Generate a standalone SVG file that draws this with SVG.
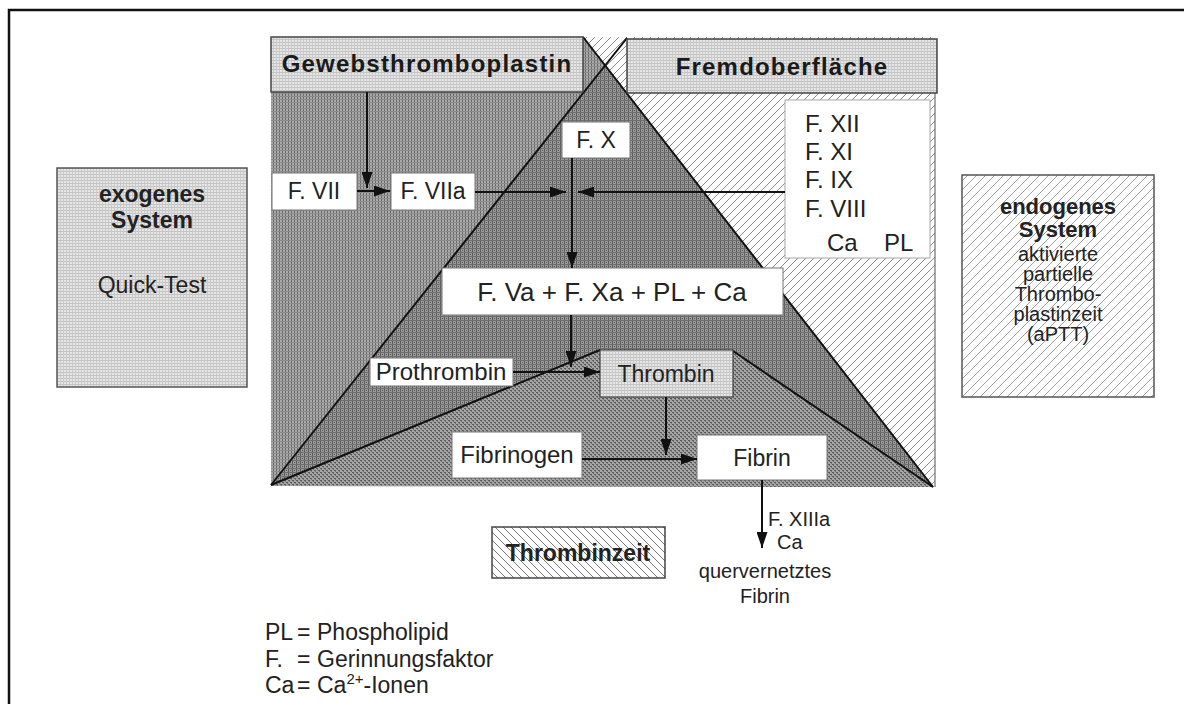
<svg xmlns="http://www.w3.org/2000/svg" width="1184" height="704" viewBox="0 0 1184 704">
<style>
.t{font-family:"Liberation Sans",Arial,sans-serif;font-size:23px;fill:#222}
.s20{font-size:20px}
.c{text-anchor:middle}
.b{font-weight:bold}
.h{font-family:"Liberation Sans",Arial,sans-serif;font-weight:bold;font-size:24px;letter-spacing:1.2px;fill:#1a1a1a;text-anchor:middle}
.box{fill:#fff;stroke:#777;stroke-width:1}
.ln{stroke:#111;stroke-width:2;fill:none}
.con{stroke:#111;stroke-width:2;fill:none;marker-end:url(#ah)}
</style>
<defs>
<marker id="ah" viewBox="0 0 16 11" refX="16" refY="5.5" markerUnits="userSpaceOnUse" markerWidth="16" markerHeight="11" orient="auto">
<path d="M0,0 L16,5.5 L0,11 z" fill="#111"/>
</marker>
<pattern id="pLight" width="3" height="3" patternUnits="userSpaceOnUse">
<rect width="3" height="3" fill="#e6e6e6"/>
<rect width="3" height="1" fill="#c2c2c2"/>
<rect width="1" height="3" fill="#cacaca"/>
</pattern>
<pattern id="pExo" width="3" height="3" patternUnits="userSpaceOnUse">
<rect width="3" height="3" fill="#a9a9a9"/>
<rect width="1" height="3" fill="#6a6a6a"/>
<rect width="3" height="1" fill="#8c8c8c"/>
</pattern>
<pattern id="pCom" width="4" height="4" patternUnits="userSpaceOnUse">
<rect width="4" height="4" fill="#9a9a9a"/>
<rect width="1" height="4" fill="#5e5e5e"/>
<rect width="4" height="1" fill="#6e6e6e"/>
<rect x="2" y="2" width="1" height="1" fill="#555"/>
</pattern>
<pattern id="pBot" width="4" height="4" patternUnits="userSpaceOnUse">
<rect width="4" height="4" fill="#a4a4a4"/>
<rect x="0" y="0" width="2" height="1" fill="#5a5a5a"/>
<rect x="2" y="2" width="2" height="1" fill="#5a5a5a"/>
<rect x="1" y="1" width="1" height="1" fill="#777"/>
<rect x="3" y="3" width="1" height="1" fill="#777"/>
</pattern>
<pattern id="pEndo" width="8" height="8" patternUnits="userSpaceOnUse">
<rect width="8" height="8" fill="#fbfbfb"/>
<path d="M-1,9 L9,-1 M-1,1 L1,-1 M7,9 L9,7" stroke="#8c8c8c" stroke-width="1"/>
</pattern>
<pattern id="pEndoBox" width="9" height="9" patternUnits="userSpaceOnUse">
<rect width="9" height="9" fill="#fdfdfd"/>
<path d="M-1,10 L10,-1 M-1,1 L1,-1 M8,10 L10,8" stroke="#a0a0a0" stroke-width="1"/>
</pattern>
<pattern id="pTz" width="8" height="8" patternUnits="userSpaceOnUse">
<rect width="8" height="8" fill="#fbfbfb"/>
<path d="M-1,-1 L9,9 M7,-1 L9,1 M-1,7 L1,9" stroke="#7a7a7a" stroke-width="1"/>
</pattern>
</defs>

<rect width="1184" height="704" fill="#fff"/>
<path d="M9,704 L9,10 L1184,10" fill="none" stroke="#111" stroke-width="2.5"/>

<g id="regions">
<polygon points="583,37 935,37 935,487 933,487" fill="url(#pEndo)"/>
<polygon points="271,37 583,37 605.5,65.5 271,484" fill="url(#pExo)"/>
<polygon points="605.5,65.5 933,487 271,486" fill="url(#pCom)"/>
<polygon points="271,486 600,350 733,350 933,487" fill="url(#pBot)"/>
<line x1="935" y1="93" x2="935" y2="487" stroke="#555" stroke-width="1"/>
<line class="ln" x1="271" y1="485" x2="627" y2="38"/>
<line class="ln" x1="583" y1="37" x2="933" y2="487"/>
<line class="ln" x1="271" y1="485" x2="600" y2="350"/>
<line class="ln" x1="733" y1="351" x2="933" y2="487"/>
</g>

<g id="header-gewebsthromboplastin">
<rect x="271" y="37" width="312" height="55" fill="url(#pLight)" stroke="#444" stroke-width="1.5"/>
<text class="h" x="427" y="72">Gewebsthromboplastin</text>
</g>
<g id="header-fremdoberflaeche">
<rect x="627" y="39" width="310" height="54" fill="url(#pLight)" stroke="#444" stroke-width="1.5"/>
<text class="h" x="782" y="75">Fremdoberfläche</text>
</g>

<g id="exogenes-system">
<rect x="57" y="168" width="190" height="219" fill="url(#pLight)" stroke="#555" stroke-width="1.5"/>
<text class="t c b" x="152" y="202">exogenes</text>
<text class="t c b" x="152" y="228">System</text>
<text class="t c" x="152" y="293">Quick-Test</text>
</g>

<g id="endogenes-system">
<rect x="962" y="175" width="192" height="222" fill="url(#pEndoBox)" stroke="#555" stroke-width="1.5"/>
<text class="t c b" x="1058" y="214" style="font-size:22px">endogenes</text>
<text class="t c b" x="1058" y="237" style="font-size:22px">System</text>
<text class="t c s20" x="1058" y="261">aktivierte</text>
<text class="t c s20" x="1058" y="281">partielle</text>
<text class="t c s20" x="1058" y="301">Thrombo-</text>
<text class="t c s20" x="1058" y="321">plastinzeit</text>
<text class="t c s20" x="1058" y="341">(aPTT)</text>
</g>

<g id="node-f7">
<rect class="box" x="272" y="173" width="85" height="37"/>
<text class="t c" x="314" y="199">F. VII</text>
</g>
<g id="node-f7a">
<rect class="box" x="391" y="173" width="84" height="37"/>
<text class="t c" x="433" y="199">F. VIIa</text>
</g>
<g id="node-f10">
<rect class="box" x="562" y="122" width="68" height="36"/>
<text class="t c" x="596" y="148">F. X</text>
</g>
<g id="node-endogen-factors">
<rect x="785" y="100" width="145" height="158" fill="#fff" stroke="#aaa" stroke-width="1"/>
<text class="t" x="805" y="132" style="font-size:24px">F. XII</text>
<text class="t" x="805" y="160" style="font-size:24px">F. XI</text>
<text class="t" x="805" y="188" style="font-size:24px">F. IX</text>
<text class="t" x="805" y="217" style="font-size:24px">F. VIII</text>
<text class="t" x="827" y="251" style="font-size:24px">Ca</text>
<text class="t" x="884" y="251" style="font-size:24px">PL</text>
</g>
<g id="node-prothrombinase">
<rect class="box" x="442" y="268" width="341" height="47"/>
<text class="t c" x="612" y="301" style="font-size:26px">F. Va + F. Xa + PL + Ca</text>
</g>
<g id="node-prothrombin">
<rect class="box" x="370" y="358" width="143" height="28"/>
<text class="t c" x="441" y="380" style="font-size:24px">Prothrombin</text>
</g>
<g id="node-thrombin">
<rect x="600" y="350" width="133" height="47" fill="url(#pLight)" stroke="#333" stroke-width="1"/>
<text class="t c" x="666" y="382">Thrombin</text>
</g>
<g id="node-fibrinogen">
<rect class="box" x="452" y="432" width="130" height="46"/>
<text class="t c" x="517" y="463" style="font-size:24px">Fibrinogen</text>
</g>
<g id="node-fibrin">
<rect class="box" x="697" y="435" width="130" height="45"/>
<text class="t c" x="762" y="466">Fibrin</text>
</g>
<g id="node-crosslinked">
<text class="t s20" x="768" y="526">F. XIIIa</text>
<text class="t s20" x="777" y="549">Ca</text>
<text class="t c s20" x="765" y="578">quervernetztes</text>
<text class="t c s20" x="765" y="603">Fibrin</text>
</g>
<g id="thrombinzeit">
<rect x="492" y="527" width="173" height="51" fill="url(#pTz)" stroke="#444" stroke-width="1.5"/>
<text class="t c b" x="578" y="561">Thrombinzeit</text>
</g>

<g id="connectors">
<path class="con" d="M367,92 L367,188"/>
<path class="con" d="M357,191 L390,191"/>
<path class="con" d="M475,192 L566,192"/>
<path class="con" d="M785,192 L578,192"/>
<path class="con" d="M572,158 L572,268"/>
<path class="con" d="M571,315 L571,367"/>
<path class="con" d="M513,372 L600,372"/>
<path class="con" d="M666,397 L666,455"/>
<path class="con" d="M582,459 L697,459"/>
<path class="con" d="M762,480 L762,548"/>
</g>

<g id="legend">
<text class="t" x="265" y="640">PL</text><text class="t" x="297" y="640">=</text><text class="t" x="317" y="640">Phospholipid</text>
<text class="t" x="265" y="667">F.</text><text class="t" x="297" y="667">=</text><text class="t" x="317" y="667">Gerinnungsfaktor</text>
<text class="t" x="265" y="693">Ca</text><text class="t" x="297" y="693">=</text><text class="t" x="317" y="693">Ca<tspan dy="-9" font-size="15">2+</tspan><tspan dy="9">-Ionen</tspan></text>
</g>
</svg>
